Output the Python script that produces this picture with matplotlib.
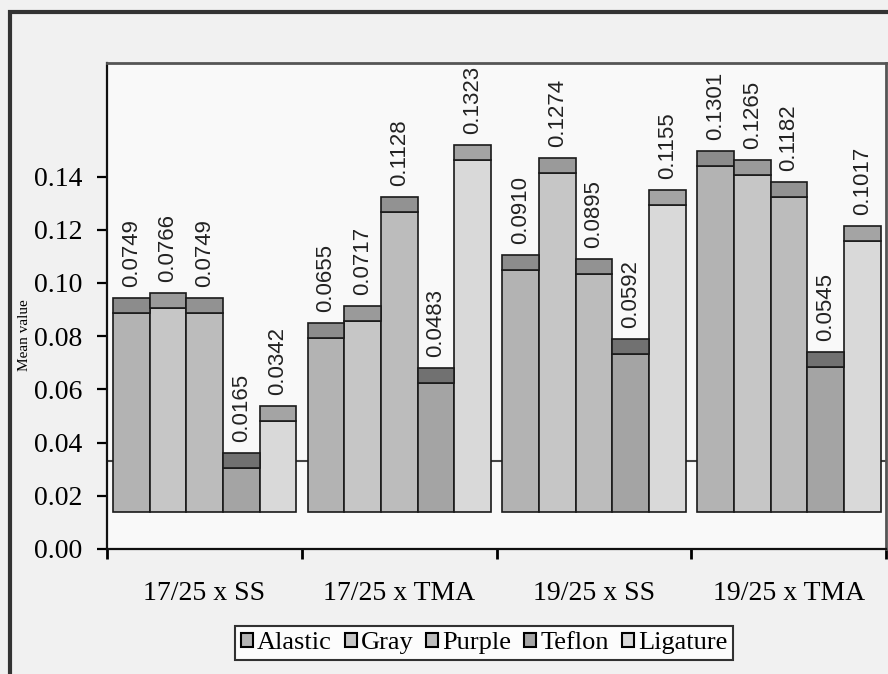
import numpy as np
import matplotlib
matplotlib.use('Agg')
import matplotlib.pyplot as plt
from matplotlib.patches import Rectangle, Patch

# data
groups = ['17/25 x SS', '17/25 x TMA', '19/25 x SS', '19/25 x TMA']
series = ['Alastic', 'Gray', 'Purple', 'Teflon', 'Ligature']
alastic = [0.0749, 0.0655, 0.0910, 0.1301]
gray = [0.0766, 0.0717, 0.1274, 0.1265]
purple = [0.0749, 0.1128, 0.0895, 0.1182]
teflon = [0.0165, 0.0483, 0.0592, 0.0545]
ligature = [0.0342, 0.1323, 0.1155, 0.1017]
values = [alastic, gray, purple, teflon, ligature]

front_colors = ['#b3b3b3', '#c6c6c6', '#bcbcbc', '#a4a4a4', '#d9d9d9']
cap_colors = ['#8c8c8c', '#9a9a9a', '#929292', '#717171', '#a4a4a4']

# 3d-ish look of the original: bars float on a floor, with a darker top face
floor = 0.014
cap = 0.0056
back_line = 0.033

W, H = 888, 674
fig = plt.figure(figsize=(W / 100, H / 100), dpi=100, facecolor='#f1f1f1')

ax = fig.add_axes([107 / W, (H - 549) / H, (886 - 107) / W, (549 - 63) / H])
ax.set_facecolor('#f9f9f9')
ax.set_xlim(0, 4)
ax.set_ylim(0, (549 - 63) / 2660)

ax.axhline(back_line, color='#444444', lw=1.5, zorder=1)

bw = 36.7 / 195
off = 6 / 195
for j, (name, vals) in enumerate(zip(series, values)):
    x = np.arange(len(groups)) + off + j * bw
    v = np.array(vals)
    ax.bar(x, v, width=bw, bottom=floor, align='edge', color=front_colors[j],
           edgecolor='#1a1a1a', linewidth=1.2, zorder=2)
    ax.bar(x, cap, width=bw, bottom=floor + v, align='edge', color=cap_colors[j],
           edgecolor='#1a1a1a', linewidth=1.2, zorder=3)
    for xi, vi in zip(x, v):
        ax.annotate('%.4f' % vi, (xi + bw / 2, floor + vi + cap), xytext=(0, 8),
                    textcoords='offset points', rotation=90, ha='center', va='bottom',
                    fontsize=16, family='Liberation Sans', color='#222222')

# axes styling
for s in ['left', 'bottom']:
    ax.spines[s].set_color('#111111')
    ax.spines[s].set_linewidth(1.6)
for s in ['top', 'right']:
    ax.spines[s].set_color('#555555')
    ax.spines[s].set_linewidth(2)

yt = np.arange(0, 0.141, 0.02)
ax.set_yticks(yt)
ax.set_yticklabels(['%.2f' % t for t in yt], family='Liberation Serif', fontsize=20)
ax.tick_params(axis='y', direction='out', length=7, width=1.6, pad=11)

ax.set_xticks([0, 1, 2, 3, 4], minor=True)
ax.set_xticks(np.arange(len(groups)) + 0.5)
ax.set_xticklabels(groups, family='Liberation Serif', fontsize=20)
ax.tick_params(axis='x', which='major', length=0, pad=23)
ax.tick_params(axis='x', which='minor', length=7, width=2, direction='out')

fig.text(25 / W, 1 - 335 / H, 'Mean value', rotation=90, ha='center', va='center',
         family='Liberation Serif', fontsize=11)

# outer frame
fig.patches.append(Rectangle((10 / W, -0.1), 1.2, 1 - 12 / H + 0.1, transform=fig.transFigure,
                             fill=False, edgecolor='#333333', linewidth=3))

handles = [Patch(facecolor=c, edgecolor='black', linewidth=1.5) for c in front_colors]
leg = fig.legend(handles, series, loc='center', bbox_to_anchor=(484 / W, 1 - 643 / H),
                 ncol=5, frameon=True, fancybox=False, edgecolor='black',
                 prop={'family': 'Liberation Serif', 'size': 19}, borderpad=0.22,
                 handlelength=0.45, handleheight=0.45, handletextpad=0.15,
                 columnspacing=0.5, borderaxespad=0)
leg.get_frame().set_linewidth(1.5)
leg.get_frame().set_facecolor('white')

fig.savefig('out.png', dpi=100, facecolor=fig.get_facecolor())
